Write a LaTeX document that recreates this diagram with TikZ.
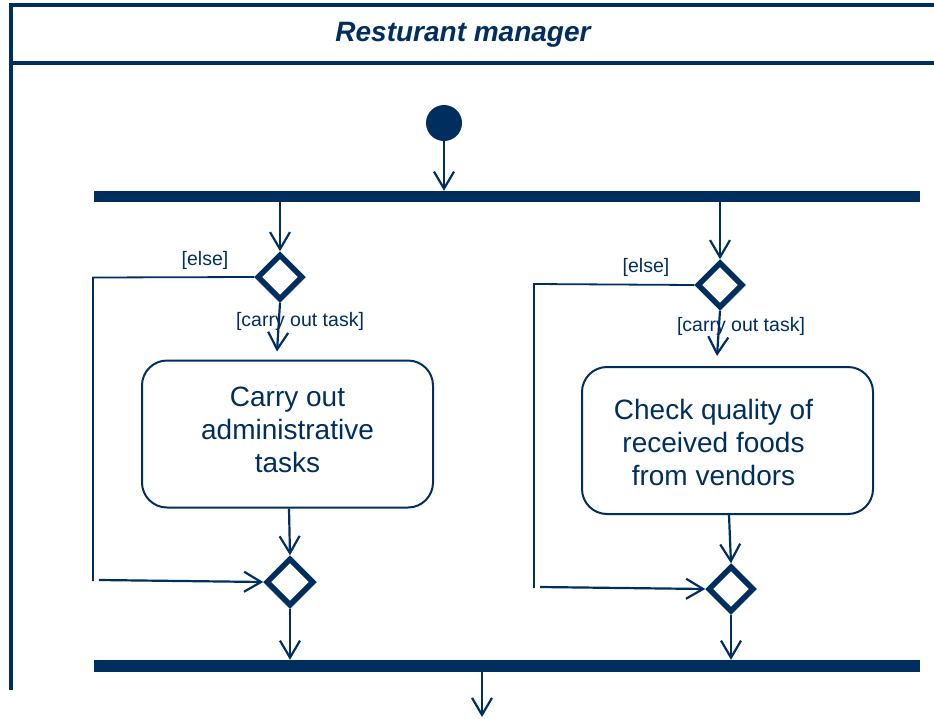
\documentclass[tikz,border=0pt]{standalone}
\usepackage{fontspec}
\setmainfont{Liberation Sans}
\usetikzlibrary{shapes.geometric,arrows.meta}
\definecolor{navy}{RGB}{0,46,94}
\begin{document}
\begin{tikzpicture}[x=1pt,y=-1pt,
  every node/.style={text=navy},
  lane/.style={draw=navy,line width=4pt},
  syncbar/.style={fill=navy, draw=none, rectangle, minimum width=826pt, minimum height=11pt, inner sep=0pt},
  startnode/.style={circle, fill=navy, minimum size=36pt, inner sep=0pt},
  decision/.style={diamond, aspect=1, draw=navy, line width=5.5pt, minimum size=46pt, inner sep=0pt, fill=white},
  activity/.style={rectangle, rounded corners=25pt, draw=navy, line width=2pt, minimum width=291pt, minimum height=147pt, align=center, font=\fontsize{28}{33}\selectfont},
  guard/.style={font=\fontsize{19.5}{22}\selectfont, inner sep=0pt},
  flow/.style={draw=navy, line width=2.2pt, -{Straight Barb[length=17pt,width=20pt]}},
  elseline/.style={draw=navy, line width=1.8pt},
]
\useasboundingbox (0,0) rectangle (934,718);
% swimlane frame
\draw[lane] (10,5) -- (934,5);
\draw[lane] (11,3) -- (11,690);
\draw[lane] (11,63) -- (934,63);
\node[font=\fontsize{28}{30}\selectfont\bfseries\itshape] (title) at (463,35) {Resturant manager};

% nodes
\node[startnode] (init) at (444,123) {};
\node[syncbar] (fork) at (507,196.5) {};
\node[decision] (dec1) at (280,277) {};
\node[decision] (dec2) at (720,285) {};
\node[activity] (act1) at (287.5,434) {\raisebox{1pt}[\height][\depth]{\begin{tabular}{@{}c@{}}Carry out\\administrative\\tasks\end{tabular}}};
\node[activity] (act2) at (727.5,440.5) {\raisebox{-5pt}[\height][\depth]{\begin{tabular}{@{}c@{}}Check quality of\\received foods\\from vendors\end{tabular}}\hspace*{28pt}};
\node[decision, minimum size=48pt] (mer1) at (290,582) {};
\node[decision] (mer2) at (731,589) {};
\node[syncbar, minimum height=12pt] (join) at (507,666) {};
\coordinate (final) at (482,717);

% guards
\node[guard] (else1) at (205,260) {[else]};
\node[guard] (task1) at (300,321) {[carry out task]};
\node[guard] (else2) at (646,267) {[else]};
\node[guard] (task2) at (741,326) {[carry out task]};

% else corners
\coordinate (e1a) at (93,277.5);
\coordinate (e1b) at (93,581);
\coordinate (e1c) at (99,580);
\coordinate (e2a) at (534,284);
\coordinate (e2b) at (534,588);
\coordinate (e2c) at (540,587);

% connectors
\draw[flow] (init.south) -- (init.south |- fork.north);
\draw[flow] (dec1 |- fork.south) -- (dec1.north);
\draw[flow] (dec2 |- fork.south) -- (dec2.north);
\draw[flow] (dec1.south) -- ([xshift=-10.5pt,yshift=8pt]act1.north);
\draw[flow] (dec2.south) -- ([xshift=-10.5pt,yshift=10pt]act2.north);
\draw[flow] ([xshift=1.5pt]act1.south) -- (mer1.north);
\draw[flow] ([xshift=1.5pt]act2.south) -- (mer2.north);
\draw[elseline] (dec1.west) -- (e1a) -- (e1b);
\draw[flow] (e1c) -- (mer1.west);
\draw[elseline] (dec2.west) -- (e2a) -- (e2b);
\draw[flow] (e2c) -- (mer2.west);
\draw[flow] (mer1.south) -- (mer1.south |- join.north);
\draw[flow] (mer2.south) -- (mer2.south |- join.north);
\draw[flow] (final |- join.south) -- (final);
\end{tikzpicture}
\end{document}
